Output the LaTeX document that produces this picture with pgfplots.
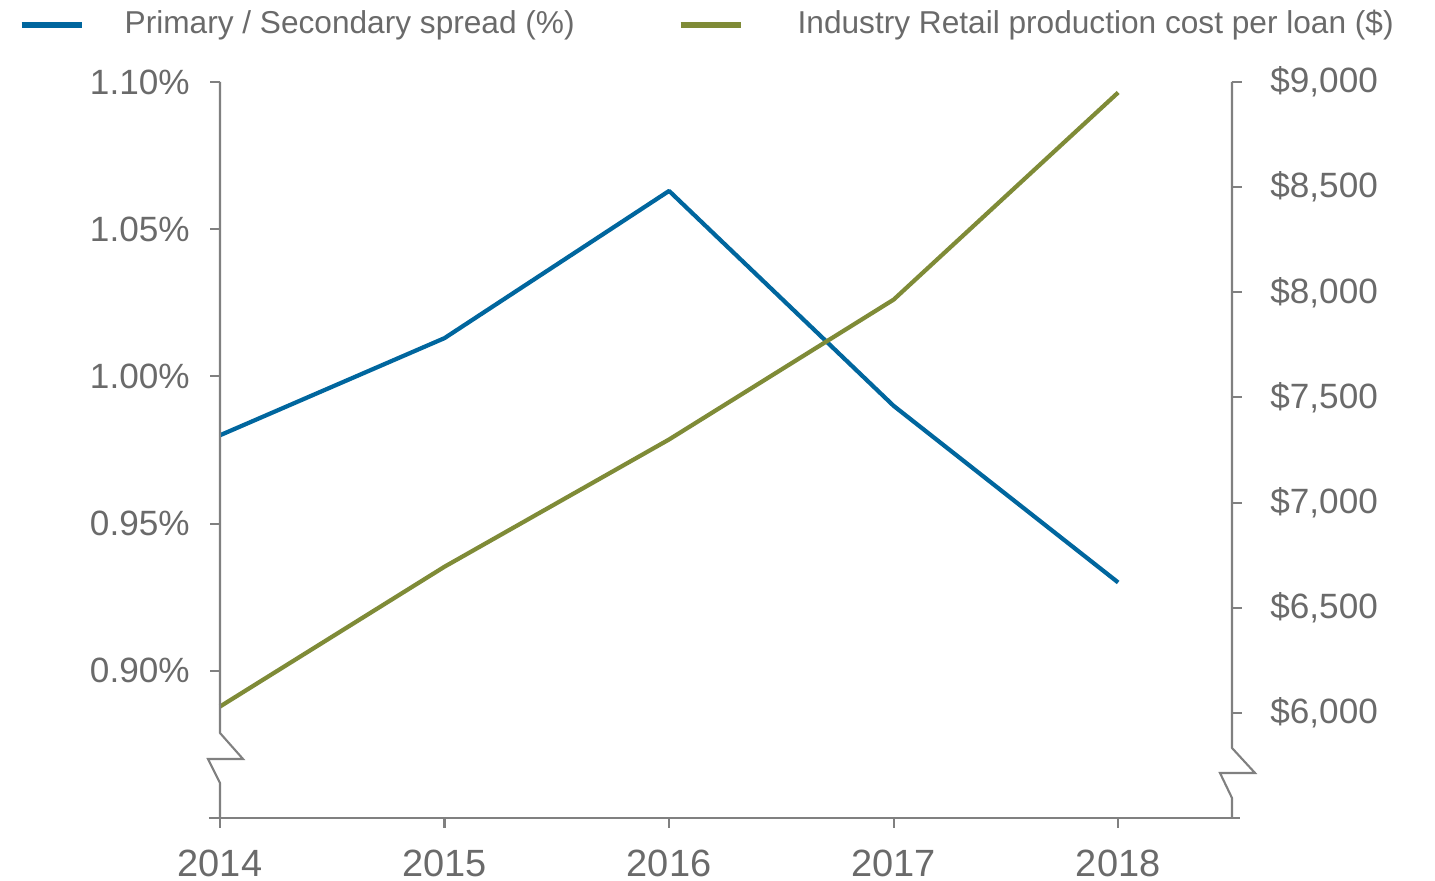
\documentclass[border=0pt]{standalone}
\usepackage{fontspec}
\setmainfont{Liberation Sans}
\usepackage{pgfplots}
\pgfplotsset{compat=1.18}
\definecolor{spreadblue}{HTML}{00669E}
\definecolor{costgreen}{HTML}{7F8B37}
\definecolor{axisgray}{HTML}{808080}
\definecolor{textgray}{HTML}{6A6A6A}

\pgfplotsset{
  base/.style={
    scale only axis, width=10.12cm, height=7.36cm,
    xmin=2014, xmax=2018.507, clip=false,
    /pgf/number format/assume math mode=true,
    axis line style={draw=none},
    tick style={axisgray, line width=0.6pt},
    major tick length=0.1cm, tick align=outside,
    every tick label/.append style={font=\fontsize{10}{12}\selectfont, text=textgray},
    every axis plot/.append style={line width=1.2pt, line join=round},
  }
}

\begin{document}
\begin{tikzpicture}
  \begin{axis}[base,
    axis y line*=left, axis x line*=bottom,
    ymin=0.85, ymax=1.10,
    ytick={0.90,0.95,1.00,1.05,1.10},
    yticklabels={0.90\%,0.95\%,1.00\%,1.05\%,1.10\%},
    xtick={2014,2015,2016,2017,2018},
    xticklabels={2014,2015,2016,2017,2018},
    x tick label style={font=\fontsize{10.8}{12}\selectfont},
    yticklabel shift=0.08cm,
    xticklabel shift=0.1cm,
  ]
    \addplot[spreadblue] coordinates {(2014,0.980) (2015,1.013) (2016,1.063) (2017,0.990) (2018,0.930)};
  \end{axis}
  \begin{axis}[base,
    axis y line*=right, axis x line=none,
    ymin=5500, ymax=9000,
    ytick={6000,6500,7000,7500,8000,8500,9000},
    yticklabels={\$6{,}000,\$6{,}500,\$7{,}000,\$7{,}500,\$8{,}000,\$8{,}500,\$9{,}000},
    yticklabel shift=0.16cm,
    legend columns=2,
    legend image code/.code={\draw[#1, line width=1.7pt] (0cm,0cm) -- (0.60cm,0cm);},
    legend style={at={(-0.1996,1.078)}, anchor=west, draw=none, fill=none,
      inner sep=0pt, nodes={inner sep=0pt, text=textgray},
      font=\fontsize{9}{11}\selectfont,
      /tikz/every odd column/.append style={column sep=0.40cm},
      /tikz/every even column/.append style={column sep=1.03cm}},
  ]
    \addlegendimage{spreadblue}
    \addlegendentry{Primary / Secondary spread (\%)}
    \addplot[costgreen] coordinates {(2014,6030) (2015,6695) (2016,7300) (2017,7965) (2018,8950)};
    \addlegendentry{\hspace{0.14cm}Industry Retail production cost per loan (\$)}
  \end{axis}
  % axis lines with breaks
  \begin{scope}[axisgray, line width=0.6pt, line join=miter]
    \draw (-0.11,0) -- (10.20,0);
    \draw (0,7.36) -- (0,0.85) -- (0.23,0.59) -- (-0.12,0.59) -- (0,0.35) -- (0,0);
    \draw (10.12,7.36) -- (10.12,0.70) -- (10.35,0.45) -- (10.00,0.45) -- (10.12,0.20) -- (10.12,0);
  \end{scope}
  \pgfresetboundingbox
  \path[use as bounding box] (-2.20,-0.63) rectangle (12.15,8.18);
\end{tikzpicture}
\end{document}
